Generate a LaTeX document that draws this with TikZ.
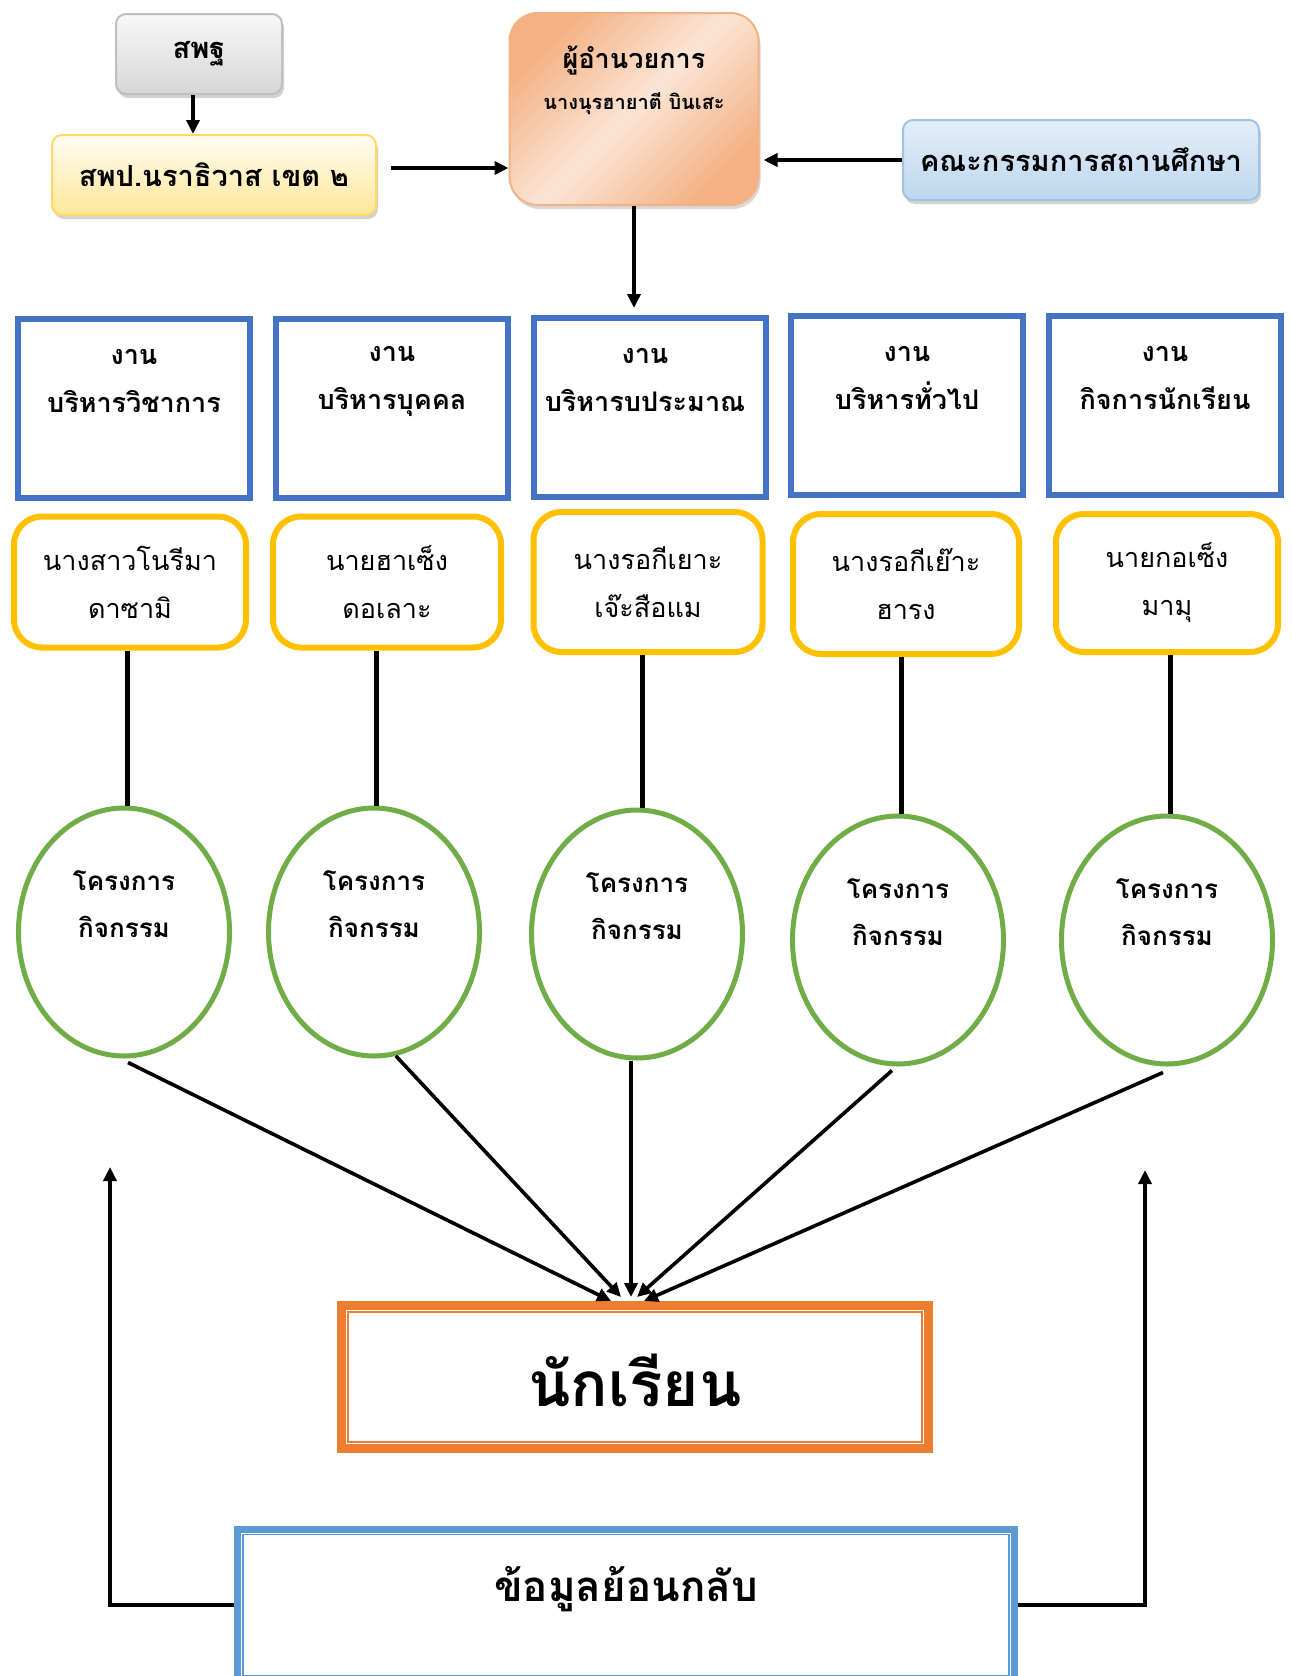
\documentclass[tikz,border=0pt]{standalone}
\usepackage{fontspec}
\setmainfont[Script=Thai]{Loma}
\usetikzlibrary{arrows.meta,shadows,calc,shapes.geometric}
\definecolor{bbox}{HTML}{4472C4}
\definecolor{ybox}{HTML}{FFC000}
\definecolor{gell}{HTML}{70AD47}
\definecolor{ostu}{HTML}{ED7D31}
\definecolor{fbk}{HTML}{5B9BD5}
\definecolor{brdb}{HTML}{9DC3E6}
\definecolor{brdt}{HTML}{E3EEF9}
\definecolor{brdm}{HTML}{BDD7EE}
\definecolor{sppb}{HTML}{FFD966}
\definecolor{sppt}{HTML}{FFFDF2}
\definecolor{sppm}{HTML}{FFE699}
\definecolor{gryb}{HTML}{BFBFBF}
\definecolor{gryt}{HTML}{F8F8F8}
\definecolor{grym}{HTML}{D6D6D6}
\definecolor{dirc}{HTML}{F4B183}
\definecolor{dirl}{HTML}{FBE5D6}
\begin{document}
\begin{tikzpicture}[x=1pt,y=-1pt,
  arr/.style={line width=3.6pt,-{Triangle[length=14pt,width=13pt]}},
  link/.style={line width=5pt},
  topbox/.style={rounded corners=10pt,line width=2pt,minimum height=80pt,
     drop shadow={shadow xshift=2pt,shadow yshift=-4pt,fill=black!35},
     font=\fontsize{29}{34}\selectfont\bfseries},
  bluebox/.style={draw=bbox,line width=6pt,minimum width=232pt,minimum height=179pt},
  btxt/.style={align=center,font=\fontsize{27}{48}\selectfont\bfseries},
  ybx/.style={draw=ybox,line width=6pt,rounded corners=28pt,minimum width=#1,align=center,
     font=\fontsize{27}{48}\selectfont},
  ell/.style={draw=gell,line width=5pt,ellipse,minimum width=211pt,minimum height=248pt},
  etxt/.style={align=center,font=\fontsize{26}{47}\selectfont\bfseries}
]
\useasboundingbox[fill=white] (0,0) rectangle (1291,1676);

% top row
\node[topbox,draw=gryb,top color=gryt,bottom color=grym,minimum width=166pt] (sp) at (199,54) {สพฐ};
\node[topbox,draw=sppb,top color=sppt,bottom color=sppm,minimum width=324pt] (spp) at (214,175) {สพป.นราธิวาส เขต ๒};
\node[rounded corners=28pt,draw=dirc,line width=2pt,minimum width=249pt,minimum height=192pt,
  left color=dirc,right color=dirc,middle color=dirl,shading angle=45,
  drop shadow={shadow xshift=2pt,shadow yshift=-4pt,fill=black!30}] (dir) at (634,109) {};
\node[align=center,font=\fontsize{27}{41}\selectfont\bfseries] (dirt) at (634,80)
  {ผู้อำนวยการ\\{\fontsize{20}{20}\selectfont นางนุรฮายาตี บินเสะ}};
\node[topbox,draw=brdb,top color=brdt,bottom color=brdm,minimum width=356pt] (brd) at (1081,160) {คณะกรรมการสถานศึกษา};

\coordinate (s1) at ($(sp.south)+(-6,0)$);
\draw[arr] (s1) -- (s1 |- spp.north);
\coordinate (s2) at ($(spp.east)+(14,-7)$);
\draw[arr] (s2) -- (s2 -| dir.west);
\draw[arr] (brd.west) -- ($(dir.east)+(4,51)$);
\coordinate (dtop) at (634,308);
\draw[arr] (dir.south) -- (dtop);

% blue boxes
\node[bluebox] (b1) at (134,408) {};
\node[bluebox] (b2) at (392,408) {};
\node[bluebox] (b3) at (650,407) {};
\node[bluebox] (b4) at (907,405) {};
\node[bluebox] (b5) at (1165,405) {};
\node[btxt] (b1t) at (134,381) {งาน\\บริหารวิชาการ};
\node[btxt] (b2t) at (392,381) {งาน\\บริหารบุคคล};
\node[btxt] (b3t) at (645,380) {งาน\\บริหารบประมาณ};
\node[btxt] (b4t) at (907,378) {งาน\\บริหารทั่วไป};
\node[btxt] (b5t) at (1165,378) {งาน\\กิจการนักเรียน};

% yellow boxes
\node[ybx=232pt,minimum height=131pt] (y1) at (130,582) {นางสาวโนรีมา\\ดาซามิ};
\node[ybx=228pt,minimum height=131pt] (y2) at (387,582) {นายฮาเซ็ง\\ดอเลาะ};
\node[ybx=229pt,minimum height=140pt] (y3) at (648,582) {นางรอกีเยาะ\\เจ๊ะสือแม};
\node[ybx=226pt,minimum height=140pt] (y4) at (906,584) {นางรอกีเย๊าะ\\ฮารง};
\node[ybx=222pt,minimum height=138pt] (y5) at (1167,583) {นายกอเซ็ง\\มามุ};

% ellipses
\node[ell] (e1) at (124,932) {};
\node[ell] (e2) at (374,932) {};
\node[ell] (e3) at (637,934) {};
\node[ell] (e4) at (898,940) {};
\node[ell] (e5) at (1167,940) {};
\node[etxt] (e1t) at (124,904) {โครงการ\\กิจกรรม};
\node[etxt] (e2t) at (374,904) {โครงการ\\กิจกรรม};
\node[etxt] (e3t) at (637,906) {โครงการ\\กิจกรรม};
\node[etxt] (e4t) at (898,912) {โครงการ\\กิจกรรม};
\node[etxt] (e5t) at (1167,912) {โครงการ\\กิจกรรม};

\coordinate (l1) at ($(e1.north)+(3,0)$);
\coordinate (l2) at ($(e2.north)+(2,0)$);
\coordinate (l3) at ($(e3.north)+(5,0)$);
\coordinate (l4) at ($(e4.north)+(3,0)$);
\coordinate (l5) at ($(e5.north)+(3,0)$);
\draw[link] (l1 |- y1.south) -- (l1);
\draw[link] (l2 |- y2.south) -- (l2);
\draw[link] (l3 |- y3.south) -- (l3);
\draw[link] (l4 |- y4.south) -- (l4);
\draw[link] (l5 |- y5.south) -- (l5);

% students
\node[draw=ostu,line width=9pt,minimum width=587pt,minimum height=143pt] (stu) at (635,1377) {};
\draw[ostu,line width=2pt] ($(stu.north west)+(11,11)$) rectangle ($(stu.south east)+(-11,-11)$);
\node[font=\fontsize{62}{64}\selectfont\bfseries] (stut) at (635,1380) {นักเรียน};

\draw[arr] ($(e1.south)+(4,4)$) -- ($(stu.north)+(-24,0)$);
\draw[arr] (e2.-80) -- ($(stu.north)+(-14,-4)$);
\draw[arr] ($(e3.south)+(-6,0)$) -- ($(stu.north)+(-4,-4)$);
\draw[arr] ($(e4.south)+(-6,4)$) -- ($(stu.north)+(2,-4)$);
\draw[arr] ($(e5.south)+(-4,6)$) -- ($(stu.north)+(9,0)$);

% feedback
\node[draw=fbk,line width=7pt,minimum width=777pt,minimum height=152pt] (fb) at (626,1605) {};
\draw[fbk,line width=1.5pt] ($(fb.north west)+(9,9)$) rectangle ($(fb.south east)+(-9,-9)$);
\node[font=\fontsize{42}{44}\selectfont\bfseries] (fbt) at (626,1589) {ข้อมูลย้อนกลับ};

\coordinate (lt) at (110,1167);
\coordinate (rt) at (1145,1170);
\draw[arr] (fb.west) -| (lt);
\draw[arr] (fb.east) -| (rt);
\end{tikzpicture}
\end{document}
